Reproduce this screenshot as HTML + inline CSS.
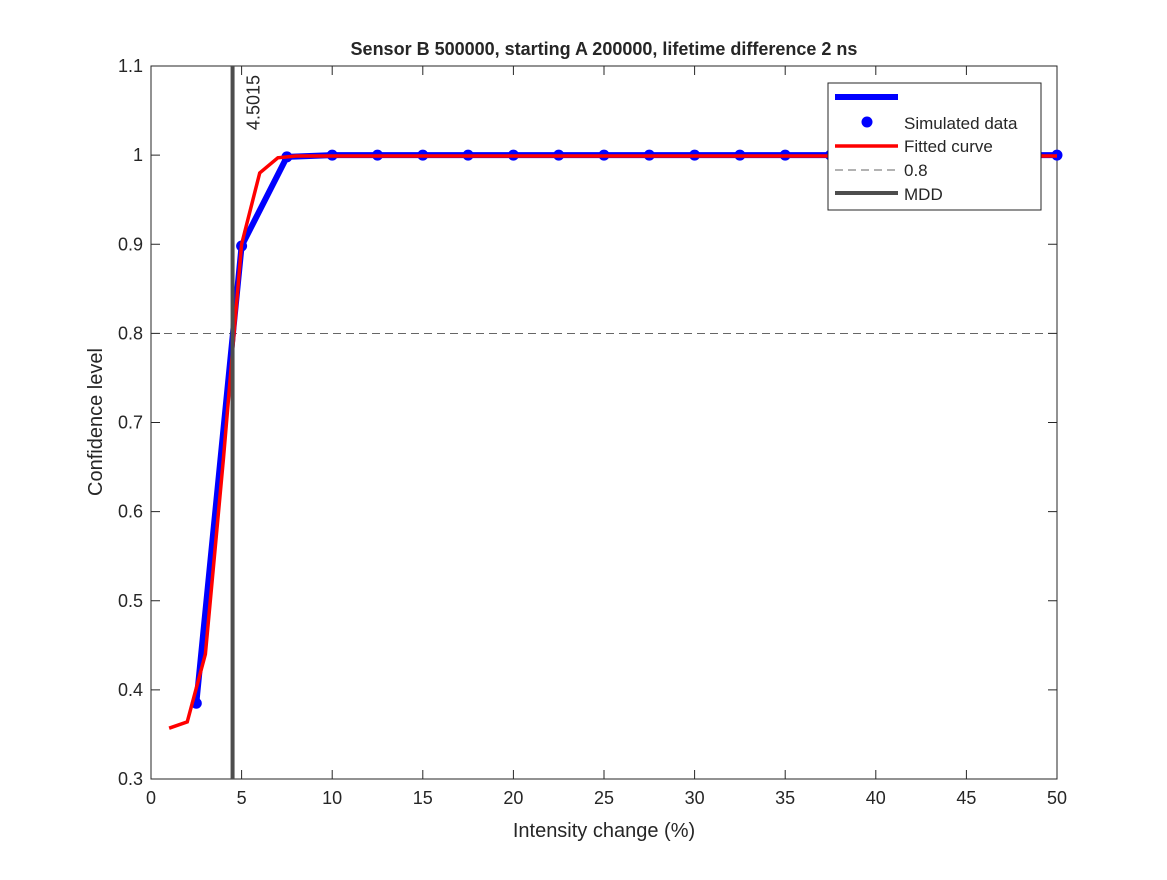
<!DOCTYPE html>
<html><head><meta charset="utf-8"><style>
body{margin:0;background:#fff;}
svg text{font-family:"Liberation Sans",Arial,sans-serif;fill:#262626;}
</style></head><body>
<svg id="chart" width="1167" height="875" xmlns="http://www.w3.org/2000/svg">
<rect width="1167" height="875" fill="#fff"/>
<g id="g"></g>
</svg>
<script>
const simX = [2.5,5,7.5,10,12.5,15,17.5,20,22.5,25,27.5,30,32.5,35,37.5,40,42.5,45,47.5,50];
const simY = [0.385,0.898,0.998,1,1,1,1,1,1,1,1,1,1,1,1,1,1,1,1,1];
const fitX = [1,2,3,4,5,6,7,8,10,20,30,40,50];
const fitY = [0.357,0.364,0.44,0.66,0.9,0.98,0.997,0.999,0.999,0.999,0.999,0.999,0.999];
const mdd = 4.5015;
const thresh = 0.8;
const xTicks = [0,5,10,15,20,25,30,35,40,45,50];
const yTicks = [0.3,0.4,0.5,0.6,0.7,0.8,0.9,1,1.1];
const L=151,R=1057,T=66,B=779;
const sx=v=>L+(v-0)/(50-0)*(R-L);
const sy=v=>B-(v-0.3)/(1.1-0.3)*(B-T);
const g=document.getElementById('g');
const NS='http://www.w3.org/2000/svg';
function mk(t,a,p){const e=document.createElementNS(NS,t);for(const k in a)e.setAttribute(k,a[k]);(p||g).appendChild(e);return e;}
let e=mk('rect',{x:L,y:T,width:R-L,height:B-T,fill:'none',stroke:'#262626','stroke-width':1});


xTicks.forEach(v=>{const x=sx(v);
 mk('line',{x1:x,x2:x,y1:B,y2:B-9,stroke:'#262626'});
 mk('line',{x1:x,x2:x,y1:T,y2:T+9,stroke:'#262626'});
 const t=mk('text',{x:x,y:B+25,'text-anchor':'middle','font-size':18});t.textContent=v;
 
 
});
yTicks.forEach(v=>{const y=sy(v);
 mk('line',{x1:L,x2:L+9,y1:y,y2:y,stroke:'#262626'});
 mk('line',{x1:R,x2:R-9,y1:y,y2:y,stroke:'#262626'});
 const t=mk('text',{x:L-8,y:y+6,'text-anchor':'end','font-size':18});t.textContent=String(v);
 
 
});
e=mk('line',{x1:L,x2:R,y1:sy(thresh),y2:sy(thresh),stroke:'#333','stroke-width':0.8,'stroke-dasharray':'8,5'});


e=mk('polyline',{points:simX.map((x,i)=>sx(x)+','+sy(simY[i])).join(' '),fill:'none',stroke:'#0000ff','stroke-width':6,'stroke-linejoin':'round'});


simX.forEach((x,i)=>{const c=mk('circle',{cx:sx(x),cy:sy(simY[i]),r:5.5,fill:'#0000ff'});
 
 });
e=mk('polyline',{points:fitX.map((x,i)=>sx(x)+','+sy(fitY[i])).join(' '),fill:'none',stroke:'#ff0000','stroke-width':3.5});


e=mk('line',{x1:sx(mdd),x2:sx(mdd),y1:T,y2:B,stroke:'#4d4d4d','stroke-width':4});


e=mk('text',{x:0,y:0,'font-size':18,transform:`translate(${sx(mdd)+27},${T+9}) rotate(-90)`,'text-anchor':'end'});
e.textContent=String(mdd);


e=mk('text',{x:604,y:55,'text-anchor':'middle','font-size':18,'font-weight':'bold',fill:'#000'});
e.textContent='Sensor B 500000, starting A 200000, lifetime difference 2 ns';


e=mk('text',{x:604,y:837,'text-anchor':'middle','font-size':20});
e.textContent='Intensity change (%)';


e=mk('text',{x:0,y:0,'text-anchor':'middle','font-size':20,transform:'translate(102,422) rotate(-90)'});
e.textContent='Confidence level';


const lg=mk('g',{});


mk('rect',{x:828,y:83,width:213,height:127,fill:'#fff',stroke:'#262626'},lg);
mk('line',{x1:835,x2:898,y1:97,y2:97,stroke:'#0000ff','stroke-width':6},lg);
mk('circle',{cx:867,cy:122,r:5.5,fill:'#0000ff'},lg);
mk('line',{x1:835,x2:898,y1:146,y2:146,stroke:'#ff0000','stroke-width':3.5},lg);
mk('line',{x1:835,x2:898,y1:170,y2:170,stroke:'#333','stroke-width':0.8,'stroke-dasharray':'8,5'},lg);
mk('line',{x1:835,x2:898,y1:193,y2:193,stroke:'#4d4d4d','stroke-width':4},lg);
[['Simulated data',129],['Fitted curve',152],['0.8',176],['MDD',200]].forEach(([s,y])=>{
 const t=mk('text',{x:904,y:y,'font-size':17,fill:'#000'},lg);t.textContent=s;
 
 });
</script>
</body></html>
